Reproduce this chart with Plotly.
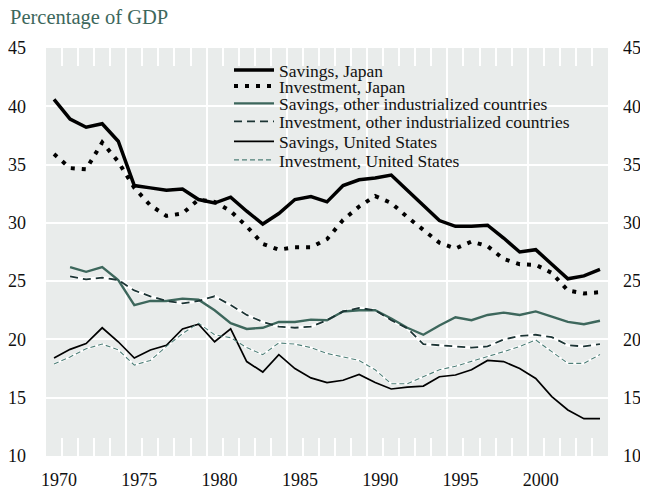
import plotly.graph_objects as go

years = list(range(1970, 2005))
years_other = list(range(1971, 2005))

savings_japan = [40.6, 38.9, 38.2, 38.5, 37.0, 33.2, 33.0, 32.8, 32.9, 32.0,
                 31.7, 32.2, 31.0, 29.9, 30.8, 32.0, 32.25, 31.8, 33.2, 33.7,
                 33.85, 34.1, 32.8, 31.5, 30.2, 29.7, 29.7, 29.8, 28.7, 27.5,
                 27.7, 26.45, 25.2, 25.45, 26.0]
investment_japan = [35.9, 34.7, 34.6, 36.9, 35.25, 33.0, 31.5, 30.6, 30.8, 32.0,
                    31.8, 31.0, 29.7, 28.2, 27.7, 27.9, 27.9, 28.6, 30.25, 31.4,
                    32.3, 31.7, 30.5, 29.4, 28.3, 27.8, 28.4, 28.0, 26.9, 26.45,
                    26.4, 25.7, 24.2, 23.95, 24.05]
savings_other = [26.2, 25.8, 26.2, 25.1, 22.95, 23.3, 23.3, 23.5, 23.4,
                 22.5, 21.4, 20.9, 21.0, 21.5, 21.5, 21.7, 21.65, 22.4, 22.5,
                 22.5, 21.8, 21.0, 20.4, 21.2, 21.9, 21.65, 22.1, 22.3, 22.1,
                 22.4, 21.95, 21.5, 21.3, 21.6]
investment_other = [25.4, 25.15, 25.3, 25.1, 24.2, 23.7, 23.3, 23.1, 23.3,
                    23.7, 22.95, 22.1, 21.5, 21.1, 21.0, 21.1, 21.65, 22.4, 22.7,
                    22.5, 21.65, 20.95, 19.6, 19.5, 19.4, 19.3, 19.4, 20.0, 20.3,
                    20.4, 20.2, 19.5, 19.4, 19.6]
savings_us = [18.4, 19.15, 19.65, 21.0, 19.8, 18.4, 19.1, 19.5, 20.9, 21.3,
              19.8, 20.9, 18.1, 17.2, 18.7, 17.5, 16.7, 16.3, 16.5, 17.0,
              16.3, 15.75, 15.9, 16.0, 16.8, 16.95, 17.4, 18.2, 18.1, 17.5,
              16.65, 15.1, 13.95, 13.2, 13.2]
investment_us = [17.9, 18.5, 19.2, 19.6, 19.1, 17.8, 18.2, 19.4, 20.5, 21.4,
                 20.4, 20.15, 19.3, 18.7, 19.7, 19.6, 19.3, 18.8, 18.5, 18.2,
                 17.4, 16.2, 16.2, 16.8, 17.4, 17.7, 18.1, 18.5, 18.95, 19.4,
                 19.95, 18.95, 17.95, 17.95, 18.7]

series_names = ["Savings, Japan", "Investment, Japan",
                "Savings, other industrialized countries",
                "Investment, other industrialized countries",
                "Savings, United States", "Investment, United States"]

label_years = [1970, 1975, 1980, 1985, 1990, 1995, 2000]
label_text = [str(y) for y in label_years]
y_ticks = [10, 15, 20, 25, 30, 35, 40, 45]
year_edges = [y - 0.5 for y in years] + [years[-1] + 0.5]

FONT = "Liberation Serif"
BG = "#e9eceb"
GREEN = "#3d675c"
XR = [year_edges[0], year_edges[-1]]

fig = go.Figure()

# white underlays for the dashed series
fig.add_trace(go.Scatter(x=years_other, y=investment_other, mode="lines",
                         line=dict(color="white", width=3.2),
                         showlegend=False, hoverinfo="skip"))
fig.add_trace(go.Scatter(x=years, y=investment_us, mode="lines",
                         line=dict(color="white", width=2.2),
                         showlegend=False, hoverinfo="skip"))

specs = [
    (years_other, savings_other, series_names[2], dict(color=GREEN, width=2.4), "legend3"),
    (years_other, investment_other, series_names[3], dict(color="#1c3434", width=1.8, dash="8px,5px"), "legend4"),
    (years, savings_us, series_names[4], dict(color="black", width=1.7), "legend5"),
    (years, investment_us, series_names[5], dict(color="#4f7f78", width=1.1, dash="5px,3px"), "legend6"),
    (years, investment_japan, series_names[1], dict(color="black", width=4, dash="4px,7px"), "legend2"),
    (years, savings_japan, series_names[0], dict(color="black", width=3.5), "legend"),
]
for xs, ys, name, line, lg in specs:
    fig.add_trace(go.Scatter(x=xs, y=ys, mode="lines", name=name, line=line,
                             legend=lg, hoverinfo="skip"))

# empty trace that activates the label axes
fig.add_trace(go.Scatter(x=[], y=[], xaxis="x2", yaxis="y2", showlegend=False,
                         hoverinfo="skip"))

# the page keeps the browser's default 8px body margin
OFF = 8
W, H = 648 - OFF, 491 - OFF
L, R, T, B = 46 - OFF, 40, 48 - OFF, 35
plot_h = H - T - B
plot_w = W - L - R

def py(page_px):
    return (H - B - (page_px - OFF)) / plot_h

def pxx(page_px):
    return ((page_px - OFF) - L) / plot_w

legend_rows = [70, 86, 103.5, 121.5, 141.5, 160]
leg_common = dict(x=pxx(229), xanchor="left", yanchor="middle",
                  bgcolor="rgba(0,0,0,0)", borderwidth=0, itemwidth=40,
                  font=dict(family=FONT, size=17.5, color="#111"))
legends = {}
keys = ["legend", "legend2", "legend3", "legend4", "legend5", "legend6"]
for k, yr in zip(keys, legend_rows):
    legends[k] = dict(leg_common, y=py(yr))

tickfont = dict(family=FONT, size=18, color="#111")

fig.update_layout(
    width=W, height=H,
    margin=dict(l=L, r=R, t=T, b=B),
    paper_bgcolor="white", plot_bgcolor=BG,
    title=dict(text="Percentage of GDP", x=2 / W, xanchor="left",
               y=1 - (17 - OFF) / H, yanchor="middle", yref="container",
               pad=dict(l=0, r=0, t=0, b=0),
               font=dict(family=FONT, size=20.5, color=GREEN)),
    # five-year vertical grid + yearly white ticks at top and bottom
    xaxis=dict(range=XR, tickmode="linear", tick0=1974.5, dtick=5,
               showgrid=True, gridcolor="white", gridwidth=2,
               ticks="inside", ticklen=18, tickcolor="white", tickwidth=2,
               mirror="ticks", showticklabels=False, zeroline=False, showline=False,
               minor=dict(ticks="inside", ticklen=18, tickcolor="white", tickwidth=2,
                          tick0=year_edges[0], dtick=1, showgrid=False)),
    # year labels
    xaxis2=dict(range=XR, overlaying="x", anchor="y2", side="bottom",
                tickmode="array", tickvals=label_years, ticktext=label_text,
                showgrid=False, zeroline=False, showline=False, ticks="",
                automargin=False,
                ticklabelstandoff=11, ticklabelshift=5, tickfont=tickfont),
    yaxis=dict(range=[10, 45], tickmode="array", tickvals=y_ticks,
               showgrid=True, gridcolor="white", gridwidth=2,
               zeroline=False, showline=False, ticks="", automargin=False,
               ticklabelstandoff=19, tickfont=tickfont),
    yaxis2=dict(range=[10, 45], overlaying="y", anchor="x2", side="right",
                tickmode="array", tickvals=y_ticks, automargin=False,
                showgrid=False, zeroline=False, showline=False, ticks="",
                ticklabelstandoff=14, tickfont=tickfont),
    **legends,
)

fig.write_html("out.html", config={"displayModeBar": False})
